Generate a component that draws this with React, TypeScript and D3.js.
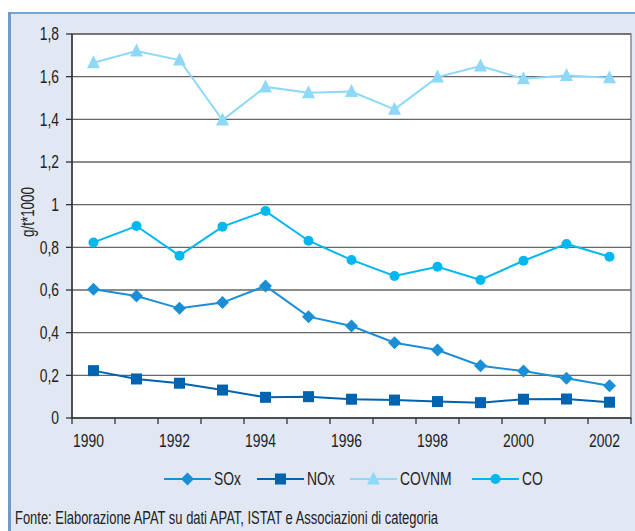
import React from "react";
import * as d3 from "d3";

const years = ["1990","1991","1992","1993","1994","1995","1996","1997","1998","1999","2000","2001","2002"];
const sox = [0.603,0.572,0.514,0.541,0.619,0.475,0.431,0.353,0.319,0.245,0.220,0.186,0.151];
const nox = [0.222,0.183,0.163,0.131,0.097,0.100,0.088,0.084,0.077,0.072,0.088,0.089,0.074];
const covnm = [1.665,1.720,1.678,1.397,1.552,1.525,1.530,1.447,1.598,1.650,1.590,1.605,1.595];
const co = [0.823,0.900,0.761,0.897,0.970,0.831,0.741,0.666,0.709,0.647,0.737,0.816,0.756];
const yTicks = [0,0.2,0.4,0.6,0.8,1,1.2,1.4,1.6,1.8];
const labelYears = ["1990","1992","1994","1996","1998","2000","2002"];
const seriesNames = ["SOx","NOx","COVNM","CO"];
const colors = ["#1a8fd6","#0063b0","#8ed8f8","#00b8ef"];
const source = "Fonte: Elaborazione APAT su dati APAT, ISTAT e Associazioni di categoria";

const W = 635, H = 531;
const left = 72, right = 631, top = 34, bottom = 418;
const FONT = "'Liberation Sans', Arial, sans-serif";
const SX = 0.77;

function CText({ x, y, anchor = "start", size = 18, children, rotate = 0 }: any) {
  return (
    <text
      transform={`translate(${x},${y}) rotate(${rotate}) scale(${SX},1)`}
      textAnchor={anchor}
      dy="0.35em"
      fontSize={size}
      fill="#222"
    >
      {children}
    </text>
  );
}

function Marker({ kind, x, y, color }: { kind: number; x: number; y: number; color: string }) {
  if (kind === 0) {
    const s = 6.5;
    return <path d={`M${x},${y - s}L${x + s},${y}L${x},${y + s}L${x - s},${y}Z`} fill={color} />;
  }
  if (kind === 1) {
    const s = 5.5;
    return <rect x={x - s} y={y - s} width={2 * s} height={2 * s} fill={color} />;
  }
  if (kind === 2) {
    const s = 6.5;
    return <path d={`M${x},${y - s - 1}L${x + s},${y + s - 1}L${x - s},${y + s - 1}Z`} fill={color} />;
  }
  return <circle cx={x} cy={y} r={5} fill={color} />;
}

export default function App() {
  const x = d3.scaleBand<string>().domain(years).range([left, right]);
  const y = d3.scaleLinear().domain([0, 1.8]).range([bottom, top]);
  const data = [sox, nox, covnm, co];
  const cx = (yr: string) => (x(yr) as number) + x.bandwidth() / 2;
  const line = d3.line<number>().x((_, i) => cx(years[i])).y((v) => y(v));
  const boundaries = years.map((yr) => x(yr) as number).concat([right]);
  const fmt = (v: number) => String(Math.round(v * 10) / 10).replace(".", ",");
  const legendX = [164, 257, 350, 472];

  return (
    <svg width={W} height={H} style={{ position: "absolute", left: 0, top: 0 }} fontFamily={FONT}>
      <rect x={0} y={0} width={W} height={H} fill="#ffffff" />
      <rect x={8} y={12} width={W - 8} height={H - 12} fill="#e1e7f3" />
      <line x1={8} x2={W} y1={13} y2={13} stroke="#7aa3d2" strokeWidth={2} />
      <line x1={9.5} x2={9.5} y1={12} y2={H} stroke="#6f9acd" strokeWidth={3} />
      <rect x={left} y={top} width={right - left} height={bottom - top} fill="#ffffff" stroke="#8a8a8a" strokeWidth={1.5} />
      {yTicks.map((t) => (
        <g key={t}>
          {t > 0 && <line x1={left} x2={right} y1={y(t)} y2={y(t)} stroke="#666" strokeWidth={1.3} />}
          <line x1={left - 6} x2={left} y1={y(t)} y2={y(t)} stroke="#333" strokeWidth={1.3} />
          <CText x={left - 13} y={y(t)} anchor="end">{fmt(t)}</CText>
        </g>
      ))}
      <line x1={left} x2={left} y1={top} y2={bottom} stroke="#333" strokeWidth={1.5} />
      <line x1={left} x2={right} y1={bottom} y2={bottom} stroke="#333" strokeWidth={1.5} />
      {boundaries.map((b, i) => (
        <line key={i} x1={b} x2={b} y1={bottom} y2={bottom + 6} stroke="#333" strokeWidth={1.3} />
      ))}
      {labelYears.map((yr) => (
        <CText key={yr} x={cx(yr) - 5} y={bottom + 23} anchor="middle">{yr}</CText>
      ))}
      <CText x={28} y={212} anchor="middle" rotate={-90} size={17.5}>g/t*1000</CText>
      {data.map((s, k) => (
        <g key={k}>
          <path d={line(s) as string} fill="none" stroke={colors[k]} strokeWidth={2} />
          {s.map((v, i) => (
            <Marker key={i} kind={k} x={cx(years[i])} y={y(v)} color={colors[k]} />
          ))}
        </g>
      ))}
      {seriesNames.map((n, k) => (
        <g key={n}>
          <line x1={legendX[k]} x2={legendX[k] + 47} y1={479} y2={479} stroke={colors[k]} strokeWidth={2} />
          <Marker kind={k} x={legendX[k] + 23.5} y={479} color={colors[k]} />
          <CText x={legendX[k] + 50} y={479}>{n}</CText>
        </g>
      ))}
      <text x={15} y={518} dy="0.35em" fontSize={17.5} fill="#222" textLength={423} lengthAdjust="spacingAndGlyphs">{source}</text>
    </svg>
  );
}
